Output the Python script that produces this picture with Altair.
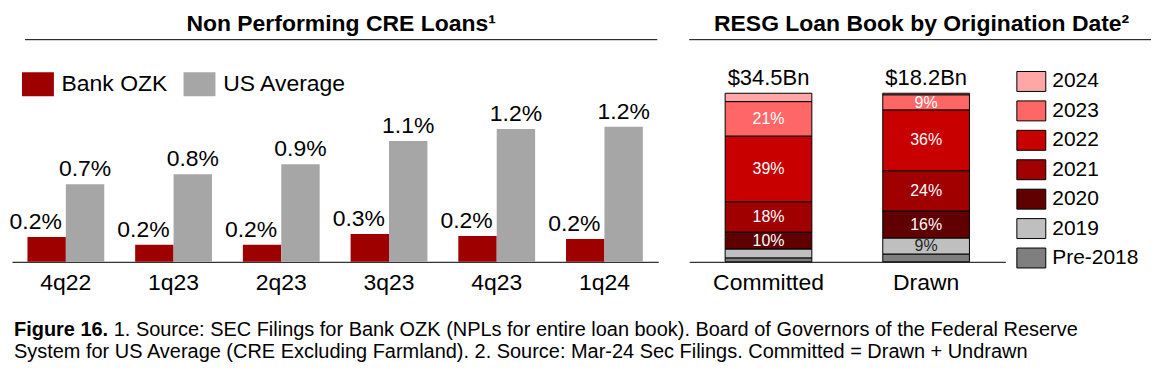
import altair as alt
import pandas as pd

FONT = "Liberation Sans, Arial, sans-serif"

# ---------------- data ----------------
quarters = ["4q22", "1q23", "2q23", "3q23", "4q23", "1q24"]
bank_ozk = [0.225, 0.153, 0.153, 0.252, 0.234, 0.207]
us_average = [0.70, 0.79, 0.88, 1.09, 1.20, 1.22]
series = ["Bank OZK", "US Average"]
series_colors = ["#9E0000", "#A6A6A6"]

books = ["Committed", "Drawn"]
vintages = ["2024", "2023", "2022", "2021", "2020", "2019", "Pre-2018"]
committed_pct = [5, 20.5, 39, 18, 10, 5.3, 2.2]
drawn_pct = [1, 9, 36, 24, 16, 9.5, 4.5]
committed_labels = ["", "21%", "39%", "18%", "10%", "", ""]
drawn_labels = ["", "9%", "36%", "24%", "16%", "9%", ""]
book_totals = ["$34.5Bn", "$18.2Bn"]
vintage_colors = ["#FFA6A6", "#FF6666", "#C80000", "#A00000", "#600000", "#BFBFBF", "#7F7F7F"]

left_title = "Non Performing CRE Loans\u00b9"
right_title = "RESG Loan Book by Origination Date\u00b2"
foot_bold = "Figure 16."
foot_line1 = "1. Source: SEC Filings for Bank OZK (NPLs for entire loan book). Board of Governors of the Federal Reserve"
foot_line2 = "System for US Average (CRE Excluding Farmland). 2. Source: Mar-24 Sec Filings. Committed = Drawn + Undrawn"

# ---------------- tables ----------------
rows = []
for q, b, u in zip(quarters, bank_ozk, us_average):
    rows.append({"quarter": q, "series": series[0], "value": b})
    rows.append({"quarter": q, "series": series[1], "value": u})
df_left = pd.DataFrame(rows)

rows = []
n = len(vintages)
for book, vals, labs in [(books[0], committed_pct, committed_labels), (books[1], drawn_pct, drawn_labels)]:
    for i, (v, val, lab) in enumerate(zip(vintages, vals, labs)):
        rows.append({"cat": book, "vintage": v, "value": val, "label": lab, "rank": n - 1 - i})
df_right = pd.DataFrame(rows)
df_tot = pd.DataFrame({"cat": books, "total": [sum(committed_pct), sum(drawn_pct)], "label": book_totals})
one = pd.DataFrame({"a": [0]})

# ---------------- left chart ----------------
LW, H = 648, 254
x_left = alt.X("quarter:N", sort=quarters,
               scale=alt.Scale(paddingInner=0.287, paddingOuter=0.1435),
               axis=alt.Axis(title=None, ticks=False, tickSize=0, labelAngle=0, labelFontSize=23,
                             labelFont=FONT, labelColor="black", labelPadding=10,
                             domainColor="black", domainWidth=1))
xo_left = alt.XOffset("series:N", sort=series, scale=alt.Scale(paddingInner=0, paddingOuter=0))
y_left = alt.Y("value:Q", scale=alt.Scale(domain=[0, 2.288], nice=False, zero=True), axis=None)

base_left = alt.Chart(df_left)
bars_left = base_left.mark_bar().encode(
    x=x_left, xOffset=xo_left, y=y_left,
    color=alt.Color("series:N", scale=alt.Scale(domain=series, range=series_colors),
                    legend=alt.Legend(title=None, orient="none", legendX=14, legendY=64,
                                      direction="horizontal",
                                      symbolType="M-1.333,-1L1.333,-1L1.333,1L-1.333,1Z",
                                      symbolSize=576, symbolStrokeWidth=0, symbolOpacity=1,
                                      labelFontSize=23, labelFont=FONT, labelColor="black",
                                      labelOffset=11.7, columnPadding=16, padding=0)),
)
lab_bank = base_left.transform_filter(alt.datum.series == series[0]).transform_calculate(
    lab="format(datum.value, '.1f') + '%'"
).mark_text(baseline="alphabetic", dy=-8, dx=-11, fontSize=23, font=FONT, color="black").encode(
    x=x_left, xOffset=xo_left, y=y_left, text="lab:N")
lab_us = base_left.transform_filter(alt.datum.series == series[1]).transform_calculate(
    lab="format(datum.value, '.1f') + '%'"
).mark_text(baseline="alphabetic", dy=-8, fontSize=23, font=FONT, color="black").encode(
    x=x_left, xOffset=xo_left, y=y_left, text="lab:N")

title_left = alt.Chart(one).mark_text(fontSize=23, fontWeight="bold", font=FONT, color="black",
                                      baseline="alphabetic", align="center").encode(
    x=alt.value(330), y=alt.value(23), text=alt.value(left_title))
rule_left = alt.Chart(one).mark_rule(color="black", strokeWidth=1).encode(
    x=alt.value(13), x2=alt.value(647), y=alt.value(31.3))
anchor = alt.Chart(one).mark_rule(opacity=0).encode(
    x=alt.value(-4), x2=alt.value(-4), y=alt.value(100), y2=alt.value(101))
foot_b = alt.Chart(one).mark_text(fontSize=20, fontWeight="bold", font=FONT, color="black",
                                  align="left", baseline="alphabetic").encode(
    x=alt.value(2), y=alt.value(328), text=alt.value(foot_bold))
foot_1 = alt.Chart(one).mark_text(fontSize=20, font=FONT, color="black",
                                  align="left", baseline="alphabetic").encode(
    x=alt.value(102), y=alt.value(328), text=alt.value(foot_line1))
foot_2 = alt.Chart(one).mark_text(fontSize=20, font=FONT, color="black",
                                  align="left", baseline="alphabetic").encode(
    x=alt.value(2), y=alt.value(350), text=alt.value(foot_line2))

left = alt.layer(bars_left, lab_bank, lab_us, title_left, rule_left, anchor,
                 foot_b, foot_1, foot_2).properties(width=LW, height=H)

# ---------------- right chart ----------------
RW = 317
x_right = alt.X("cat:N", sort=books,
                scale=alt.Scale(paddingInner=0.45, paddingOuter=0.228),
                axis=alt.Axis(title=None, ticks=False, tickSize=0, labelAngle=0, labelFontSize=23,
                              labelFont=FONT, labelColor="black", labelPadding=10,
                              domainColor="black", domainWidth=1))
y_scale_r = alt.Scale(domain=[0, 150.3], nice=False, zero=True)

stacked = alt.Chart(df_right).transform_stack(
    stack="value", as_=["y0", "y1"], groupby=["cat"],
    sort=[alt.SortField("rank", order="ascending")]
).transform_calculate(mid="(datum.y0 + datum.y1) / 2")

bars_right = stacked.mark_bar(stroke="black", strokeWidth=1).encode(
    x=x_right,
    y=alt.Y("y0:Q", scale=y_scale_r, axis=None),
    y2="y1:Q",
    color=alt.Color("vintage:N", scale=alt.Scale(domain=vintages, range=vintage_colors),
                    legend=alt.Legend(title=None, orient="none", legendX=332.5, legendY=62.7,
                                      symbolType="M-1.45,-1L1.45,-1L1.45,1L-1.45,1Z",
                                      symbolSize=400, symbolStrokeColor="black",
                                      symbolStrokeWidth=1, symbolOpacity=1,
                                      labelFontSize=21, labelFont=FONT, labelColor="black",
                                      labelOffset=10.5, rowPadding=4.5, padding=0)),
)
seg_labels = stacked.transform_filter(alt.datum.label != "").mark_text(
    baseline="middle", fontSize=16, font=FONT).encode(
    x=x_right,
    y=alt.Y("mid:Q", scale=y_scale_r, axis=None),
    text="label:N",
    color=alt.condition(alt.datum.vintage == "2019", alt.value("#262626"), alt.value("white")),
)
tot_labels = alt.Chart(df_tot).mark_text(baseline="alphabetic", dy=-8, fontSize=22, font=FONT,
                                         color="black").encode(
    x=x_right, y=alt.Y("total:Q", scale=y_scale_r, axis=None), text="label:N")
title_right = alt.Chart(one).mark_text(fontSize=23, fontWeight="bold", font=FONT, color="black",
                                       baseline="alphabetic", align="center").encode(
    x=alt.value(233), y=alt.value(23), text=alt.value(right_title))
rule_right = alt.Chart(one).mark_rule(color="black", strokeWidth=1).encode(
    x=alt.value(0), x2=alt.value(463), y=alt.value(31.3))

right = alt.layer(bars_right, seg_labels, tot_labels, title_right, rule_right).properties(
    width=RW, height=H)

chart = alt.hconcat(left, right, spacing=31, bounds="flush").resolve_scale(
    color="independent", x="independent", y="independent"
).resolve_legend(color="independent").properties(padding=0).configure(
    font=FONT).configure_view(stroke=None)

chart.save("out.html", embed_options={"renderer": "svg", "actions": False})
